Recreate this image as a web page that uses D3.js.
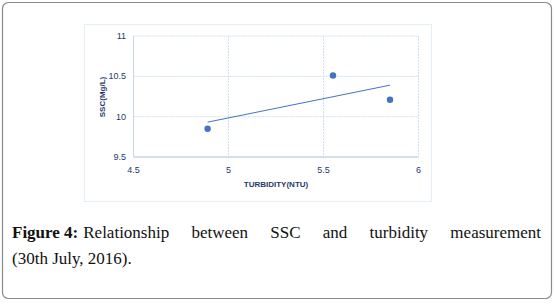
<!DOCTYPE html>
<html>
<head>
<meta charset="utf-8">
<script src="https://cdn.jsdelivr.net/npm/d3@7"></script>
<style>
  body { margin: 0; background: #fff; }
  svg { display: block; }
</style>
</head>
<body>
<div id="chart-area"></div>
<script>
// data
var turbidity = [4.89, 5.55, 5.85];
var ssc = [9.85, 10.51, 10.21];
var xTicks = [4.5, 5, 5.5, 6];
var yTicks = [9.5, 10, 10.5, 11];
var captionLabel = "Figure 4:";
var captionLine1 = ["Relationship", "between", "SSC", "and", "turbidity", "measurement"];
var captionLine2 = "(30th July, 2016).";

var width = 554, height = 305;
var textColor = "#1f3a6b";
var blue = "#4472c4";

var svg = d3.select("#chart-area")
    .append("svg")
    .attr("width", width)
    .attr("height", height);

// page frame
svg.append("rect")
    .attr("x", 2.5).attr("y", 2.5)
    .attr("width", 549).attr("height", 296)
    .attr("rx", 6)
    .attr("fill", "none")
    .attr("stroke", "#8a8a8a")
    .attr("stroke-width", 1.2);

// chart frame (dotted)
svg.append("rect")
    .attr("x", 84.5).attr("y", 24.5)
    .attr("width", 347).attr("height", 177)
    .attr("fill", "none")
    .attr("stroke", "#c9dcf0")
    .attr("stroke-dasharray", "1,1");

var x = d3.scaleLinear().domain([4.5, 6]).range([133.5, 418.5]);
var y = d3.scaleLinear().domain([9.5, 11]).range([157, 36]);

// grid
svg.append("g").selectAll("line").data(xTicks.slice(1))
    .enter().append("line")
    .attr("x1", (d) => x(d)).attr("x2", (d) => x(d))
    .attr("y1", y(11)).attr("y2", y(9.5))
    .attr("stroke", "#cfdff3")
    .attr("stroke-dasharray", "2,1");

svg.append("g").selectAll("line").data(yTicks.slice(1))
    .enter().append("line")
    .attr("x1", x(4.5)).attr("x2", x(6))
    .attr("y1", (d) => y(d)).attr("y2", (d) => y(d))
    .attr("stroke", "#cfdff3")
    .attr("stroke-dasharray", "2,1");

// axes lines
svg.append("line")
    .attr("x1", x(4.5)).attr("x2", x(4.5))
    .attr("y1", y(11)).attr("y2", y(9.5))
    .attr("stroke", "#c6d8ef");
svg.append("line")
    .attr("x1", x(4.5)).attr("x2", x(6))
    .attr("y1", y(9.5)).attr("y2", y(9.5))
    .attr("stroke", "#a9bedb")
    .attr("stroke-width", 1.2);

// tick labels
svg.append("g").selectAll("text").data(yTicks)
    .enter().append("text")
    .attr("x", 126)
    .attr("y", (d) => y(d) + 3)
    .attr("text-anchor", "end")
    .attr("font-family", "Liberation Sans, sans-serif")
    .attr("font-size", "9px")
    .attr("fill", textColor)
    .text((d) => d);

svg.append("g").selectAll("text").data(xTicks)
    .enter().append("text")
    .attr("x", (d) => x(d))
    .attr("y", 172.5)
    .attr("text-anchor", "middle")
    .attr("font-family", "Liberation Sans, sans-serif")
    .attr("font-size", "9px")
    .attr("fill", textColor)
    .text((d) => d);

// axis titles
svg.append("text")
    .attr("x", 276).attr("y", 187)
    .attr("text-anchor", "middle")
    .attr("font-family", "Liberation Sans, sans-serif")
    .attr("font-size", "8px")
    .attr("font-weight", "bold")
    .attr("fill", textColor)
    .text("TURBIDITY(NTU)");

svg.append("text")
    .attr("transform", "translate(105, 97) rotate(-90)")
    .attr("text-anchor", "middle")
    .attr("font-family", "Liberation Sans, sans-serif")
    .attr("font-size", "8px")
    .attr("font-weight", "bold")
    .attr("fill", textColor)
    .text("SSC(Mg/L)");

// linear trendline (least squares)
var mx = d3.mean(turbidity), my = d3.mean(ssc);
var sxy = d3.sum(turbidity, (d, i) => (d - mx) * (ssc[i] - my));
var sxx = d3.sum(turbidity, (d) => (d - mx) * (d - mx));
var slope = sxy / sxx, icpt = my - slope * mx;
var ext = d3.extent(turbidity);
svg.append("line")
    .attr("x1", x(ext[0])).attr("y1", y(icpt + slope * ext[0]))
    .attr("x2", x(ext[1])).attr("y2", y(icpt + slope * ext[1]))
    .attr("stroke", blue)
    .attr("stroke-width", 1);

// points
svg.append("g").selectAll("circle").data(turbidity)
    .enter().append("circle")
    .attr("cx", (d) => x(d))
    .attr("cy", (d, i) => y(ssc[i]))
    .attr("r", 3.2)
    .attr("fill", blue);

// caption, justified first line
var left = 12, right = 541;
var cap = svg.append("g")
    .attr("font-family", "Liberation Serif, serif")
    .attr("font-size", "17px")
    .attr("fill", "#111");

var label = cap.append("text")
    .attr("x", left).attr("y", 238)
    .attr("font-weight", "bold")
    .text(captionLabel);
var start = left + label.node().getComputedTextLength() + 5;

var words = cap.selectAll("text.w").data(captionLine1)
    .enter().append("text")
    .attr("class", "w")
    .attr("y", 238)
    .text((d) => d);

var widths = [];
words.each(function() { widths.push(this.getComputedTextLength()); });
var gap = (right - start - d3.sum(widths)) / (captionLine1.length - 1);
var pos = start;
words.attr("x", (d, i) => {
    var p = pos;
    pos += widths[i] + gap;
    return p;
});

cap.append("text")
    .attr("x", left).attr("y", 264)
    .text(captionLine2);
</script>
</body>
</html>
